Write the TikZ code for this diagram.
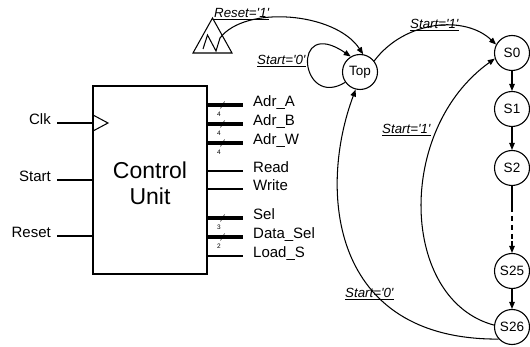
\documentclass[tikz,border=0pt]{standalone}
\usepackage{fontspec}
\setmainfont{Liberation Sans}
\usetikzlibrary{arrows.meta}
\newcommand\qs{\textquotesingle}
\newcommand\cnd[1]{\underline{#1}}
\begin{document}
\begin{tikzpicture}[x=1pt,y=-1pt,
  state/.style={circle,draw,line width=1.1pt,minimum size=35pt,inner sep=0pt,
    font=\fontsize{13.5}{15}\selectfont},
  wire/.style={line width=1.05pt},
  bus/.style={line width=3.8pt},
  sigout/.style={anchor=base west,inner sep=0pt,font=\fontsize{15}{17}\selectfont},
  sigin/.style={anchor=base east,inner sep=0pt,font=\fontsize{15}{17}\selectfont},
  cond/.style={anchor=base west,inner sep=0pt,font=\fontsize{13.3}{15}\selectfont\itshape},
  trans/.style={line width=1.05pt,-{Triangle[length=7pt,width=5.5pt]}},
  widthmark/.style={font=\fontsize{6.5}{7}\selectfont,inner sep=0pt},
]
\useasboundingbox (0,0) rectangle (530,347);

% ---- control unit block ----
\node[draw,line width=1.3pt,minimum width=114pt,minimum height=188pt,inner sep=0pt]
  (cu) at (150,180) {};
\node[align=center,inner sep=0pt,font=\fontsize{23}{26}\selectfont] (cutext) at (150,183)
  {Control\\Unit};
% clock input triangle
\draw[wire] (93,115) -- (108,123) -- (93,131);

% inputs
\foreach \y/\nm/\id in {123/Clk/clk,180/Start/start,236/Reset/reset}{
  \coordinate (\id) at (57,\y);
  \draw[wire] (\id) -- (\id -| cu.west);
  \node[sigin] (\id lbl) at (51,\y+2) {\nm};
}

% bus outputs with width marks
\foreach \y/\nm/\w/\id in {105/Adr\_A/4/oa,124/Adr\_B/4/ob,143/Adr\_W/4/ow,
                           218/Sel/3/osel,237/Data\_Sel/2/odsel}{
  \coordinate (\id) at (243,\y);
  \draw[bus] (\id -| cu.east) -- (\id);
  \draw[line width=0.5pt] (220.5,\y+3.5) -- (224.5,\y-3.5);
  \node[widthmark] (\id w) at (219,\y+9) {\w};
  \node[sigout] (\id lbl) at (253,\y+2) {\nm};
}
% single-bit outputs
\foreach \y/\nm/\id in {171/Read/ord,189/Write/owr,256/Load\_S/ols}{
  \coordinate (\id) at (243,\y);
  \draw[wire] (\id -| cu.east) -- (\id);
  \node[sigout] (\id lbl) at (253,\y+2) {\nm};
}

% ---- state machine ----
\node[state] (top) at (360,72) {Top};
\node[state] (s0)  at (512,53) {S0};
\node[state] (s1)  at (512,109) {S1};
\node[state] (s2)  at (512,168) {S2};
\node[state] (s25) at (512,271) {S25};
\node[state] (s26) at (512,327) {S26};

% reset symbol
\draw[wire] (212.5,18) -- (232,53) -- (193,53) -- cycle;
\coordinate (rst) at (220,38);
\draw[wire] (203,49) -- (207.5,35) -- (216,51) -- (rst);
\draw[trans] (rst) .. controls (245,5) and (335,12) .. (top.80);
\node[cond] (lrst) at (214,17.5) {\cnd{Reset=\qs1\qs}};

% self loop on Top
\draw[trans] (top.215) .. controls (300,110) and (290,15) .. (top.121);
\node[cond] (lloop) at (257,65) {\cnd{Start=\qs0\qs}};

% Top -> S0
\draw[trans] (top.38) .. controls (405,20) and (465,15) .. (s0.152);
\node[cond] (ltop) at (410,29) {\cnd{Start=\qs1\qs}};

% sequence S0 ... S26
\draw[trans] (s0) -- (s1);
\draw[trans] (s1) -- (s2);
\coordinate (gapa) at (512,207);
\coordinate (gapb) at (512,241);
\draw[wire] (s2) -- (gapa);
\draw[wire,dash pattern=on 5pt off 4pt] (gapa) -- (gapb);
\draw[trans] (gapb) -- (s25);
\draw[trans] (s25) -- (s26);

% S26 -> S0
\draw[trans] (s26.174) .. controls (400,300) and (395,130) .. (s0.198);
\node[cond] (lrep) at (382,134) {\cnd{Start=\qs1\qs}};

% S26 -> Top
\draw[trans] (s26.222) .. controls (330,340) and (318,190) .. (top.256);
\node[cond] (lend) at (345,298) {\cnd{Start=\qs0\qs}};
\end{tikzpicture}
\end{document}
